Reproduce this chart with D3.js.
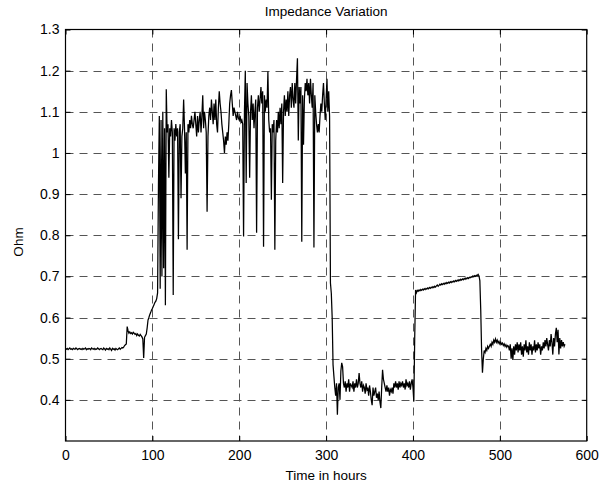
<!DOCTYPE html>
<html>
<head>
<meta charset="utf-8">
<script src="https://cdn.jsdelivr.net/npm/d3@7"></script>
<style>
  body { margin: 0; background: #fff; }
  text { font-family: "Liberation Sans", Arial, Helvetica, sans-serif; fill: #000; }
</style>
</head>
<body>
<svg id="chart" width="602" height="484"></svg>
<script>
// impedance readings, one per hour starting at hour 0
const stepHours = 1;
const ohm = [
  0.524,0.523,0.525,0.522,0.524,0.526,0.523,0.524,0.522,0.525, // 0
  0.524,0.523,0.526,0.524,0.522,0.524,0.525,0.523,0.524,0.522, // 10
  0.525,0.523,0.524,0.526,0.522,0.524,0.523,0.525,0.524,0.522, // 20
  0.526,0.524,0.523,0.525,0.522,0.524,0.523,0.526,0.524,0.522, // 30
  0.524,0.525,0.523,0.522,0.526,0.524,0.521,0.525,0.523,0.524, // 40
  0.522,0.526,0.523,0.520,0.525,0.523,0.524,0.521,0.525,0.523, // 50
  0.522,0.524,0.526,0.523,0.525,0.527,0.526,0.528,0.532,0.534, // 60
  0.536,0.578,0.568,0.562,0.565,0.561,0.563,0.560,0.564,0.562, // 70
  0.559,0.561,0.556,0.560,0.557,0.555,0.559,0.556,0.553,0.548, // 80
  0.502,0.552,0.556,0.560,0.575,0.594,0.600,0.607,0.612,0.618, // 90
  0.622,0.627,0.632,0.637,0.640,0.646,0.66,0.92,1.09,0.67,     // 100
  1.08,0.70,1.10,0.72,1.06,0.63,1.155,1.05,1.07,0.94,          // 110
  1.06,1.04,1.08,1.05,0.655,1.06,1.03,1.07,1.04,1.06,          // 120
  0.79,1.05,1.07,0.89,1.04,1.06,1.13,1.06,0.95,1.05,           // 130
  0.765,1.07,1.05,1.08,1.06,1.09,1.07,1.06,1.08,1.10,          // 140
  1.07,1.04,1.09,1.05,1.08,1.10,1.05,1.09,1.14,1.06,           // 150
  1.10,1.08,1.05,0.857,1.04,1.09,1.11,1.08,1.13,1.10,          // 160
  1.07,1.12,1.08,1.13,1.07,1.05,1.11,1.15,1.12,1.10,           // 170
  1.07,1.05,1.03,1.00,1.04,1.02,1.05,1.03,1.07,1.12,           // 180
  1.14,1.153,1.12,1.09,1.11,1.10,1.09,1.08,1.10,1.085,         // 190
  1.08,1.09,1.075,1.08,1.07,0.797,1.10,1.20,0.927,1.17,        // 200
  1.12,1.09,0.94,1.10,1.14,1.08,1.12,1.06,1.10,1.13,           // 210
  0.806,1.11,1.14,1.10,1.13,1.16,1.12,1.15,0.772,1.14,         // 220
  1.10,1.13,1.11,1.198,1.08,1.05,1.06,0.886,1.07,1.05,         // 230
  1.08,0.765,1.03,1.08,1.05,1.10,1.06,1.11,1.07,1.12,          // 240
  0.927,1.10,1.14,1.09,1.13,1.10,1.15,1.09,1.14,1.16,          // 250
  1.11,1.17,1.13,1.11,1.17,1.12,1.18,1.23,1.03,1.16,           // 260
  1.12,1.16,0.784,1.14,1.02,1.13,1.17,1.15,1.18,1.14,          // 270
  1.17,1.12,1.18,1.14,1.11,1.17,0.77,1.14,1.10,1.07,           // 280
  1.05,1.07,1.05,1.09,1.12,1.10,1.14,1.17,1.12,1.08,           // 290
  1.13,1.18,1.10,1.15,1.09,0.684,0.659,0.60,0.485,0.457,       // 300
  0.43,0.41,0.44,0.364,0.43,0.44,0.40,0.47,0.49,0.48,          // 310
  0.44,0.43,0.445,0.42,0.44,0.43,0.45,0.42,0.44,0.435,         // 320
  0.43,0.445,0.42,0.44,0.43,0.45,0.43,0.44,0.465,0.44,         // 330
  0.43,0.445,0.42,0.435,0.43,0.415,0.44,0.425,0.43,0.41,       // 340
  0.435,0.42,0.40,0.387,0.43,0.41,0.42,0.43,0.405,0.415,       // 350
  0.40,0.42,0.395,0.38,0.43,0.473,0.45,0.44,0.43,0.42,         // 360
  0.435,0.42,0.43,0.41,0.425,0.42,0.43,0.415,0.44,0.43,        // 370
  0.445,0.43,0.44,0.425,0.445,0.43,0.44,0.435,0.445,0.43,      // 380
  0.44,0.425,0.45,0.435,0.44,0.43,0.445,0.425,0.44,0.45,       // 390
  0.43,0.396,0.55,0.667,0.660,0.666,0.664,0.667,0.665,0.668,   // 400
  0.666,0.669,0.667,0.670,0.668,0.671,0.669,0.672,0.670,0.673, // 410
  0.671,0.674,0.672,0.675,0.673,0.676,0.674,0.677,0.679,0.676, // 420
  0.678,0.681,0.679,0.682,0.680,0.683,0.681,0.684,0.682,0.685, // 430
  0.683,0.686,0.684,0.687,0.685,0.688,0.686,0.689,0.687,0.690, // 440
  0.688,0.691,0.689,0.692,0.690,0.693,0.691,0.694,0.692,0.695, // 450
  0.693,0.696,0.694,0.697,0.695,0.698,0.697,0.699,0.698,0.701, // 460
  0.699,0.702,0.700,0.703,0.702,0.705,0.701,0.690,0.620,0.522, // 470
  0.466,0.500,0.520,0.515,0.525,0.520,0.530,0.525,0.530,0.535, // 480
  0.530,0.540,0.535,0.545,0.540,0.548,0.540,0.545,0.538,0.542, // 490
  0.536,0.540,0.535,0.538,0.532,0.536,0.530,0.534,0.528,0.532, // 500
  0.530,0.520,0.535,0.500,0.525,0.497,0.530,0.510,0.535,0.520, // 510
  0.540,0.515,0.535,0.520,0.540,0.510,0.530,0.505,0.535,0.520, // 520
  0.545,0.515,0.530,0.510,0.540,0.520,0.535,0.510,0.530,0.520, // 530
  0.545,0.515,0.535,0.520,0.540,0.525,0.535,0.510,0.530,0.520, // 540
  0.540,0.525,0.545,0.530,0.550,0.535,0.520,0.545,0.530,0.560, // 550
  0.540,0.510,0.550,0.530,0.560,0.575,0.540,0.570,0.510,0.550, // 560
  0.525,0.545,0.530,0.540,0.530,0.535                          // 570
];

const xTicks = [0, 100, 200, 300, 400, 500, 600];
const xTickLabels = ["0", "100", "200", "300", "400", "500", "600"];
const yTicks = [0.4, 0.5, 0.6, 0.7, 0.8, 0.9, 1.0, 1.1, 1.2, 1.3];
const yTickLabels = ["0.4", "0.5", "0.6", "0.7", "0.8", "0.9", "1", "1.1", "1.2", "1.3"];

const svg = d3.select('#chart');
const margin = { left: 65.5, right: 15.3, top: 29.5, bottom: 43 };
const W = 602, H = 484;

const x = d3.scaleLinear().domain([0, 600]).range([margin.left, W - margin.right]);
const y = d3.scaleLinear().domain([0.3, 1.3]).range([H - margin.bottom, margin.top]);

svg.append('rect').attr('width', W).attr('height', H).attr('fill', '#fff');

// dashed grid
const grid = svg.append('g').attr('stroke', '#555').attr('stroke-width', 1)
  .attr('stroke-dasharray', '8,6').attr('fill', 'none');
xTicks.slice(1, -1).forEach(t => {
  grid.append('line').attr('x1', Math.round(x(t)) + 0.5).attr('x2', Math.round(x(t)) + 0.5)
    .attr('y1', y(1.3)).attr('y2', y(0.3));
});
yTicks.slice(0, -1).forEach(t => {
  grid.append('line').attr('y1', Math.round(y(t)) + 0.5).attr('y2', Math.round(y(t)) + 0.5)
    .attr('x1', x(0)).attr('x2', x(600));
});

// the trace
const line = d3.line()
  .x((d, i) => x(i * stepHours))
  .y(d => y(d));
svg.append('path').datum(ohm)
  .attr('d', line)
  .attr('fill', 'none')
  .attr('stroke', '#000')
  .attr('stroke-width', 1.25);

// axes, ticks pointing inward
const xAxis = d3.axisBottom(x).tickValues(xTicks)
  .tickFormat((d, i) => xTickLabels[i]).tickSizeInner(-5).tickSizeOuter(0).tickPadding(9);
const yAxis = d3.axisLeft(y).tickValues(yTicks)
  .tickFormat((d, i) => yTickLabels[i]).tickSizeInner(-5).tickSizeOuter(0).tickPadding(6);

const gx = svg.append('g').attr('transform', `translate(0,${y(0.3)})`).call(xAxis);
const gy = svg.append('g').attr('transform', `translate(${x(0)},0)`).call(yAxis);
[gx, gy].forEach(g => {
  g.select('.domain').remove();
  g.selectAll('text').attr('font-size', 14).attr('font-family', '"Liberation Sans", Arial, sans-serif');
  g.selectAll('line').attr('stroke', '#000');
});

// ticks on top and right too
svg.append('g').call(d3.axisTop(x).tickValues(xTicks).tickSizeInner(-5).tickSizeOuter(0).tickFormat(''))
  .attr('transform', `translate(0,${y(1.3)})`)
  .call(g => g.select('.domain').remove());
svg.append('g').call(d3.axisRight(y).tickValues(yTicks).tickSizeInner(-5).tickSizeOuter(0).tickFormat(''))
  .attr('transform', `translate(${x(600)},0)`)
  .call(g => g.select('.domain').remove());

// box
svg.append('rect')
  .attr('x', x(0)).attr('y', y(1.3))
  .attr('width', x(600) - x(0)).attr('height', y(0.3) - y(1.3))
  .attr('fill', 'none').attr('stroke', '#000').attr('stroke-width', 1.2);

// labels
svg.append('text').attr('x', (x(0) + x(600)) / 2).attr('y', 16)
  .attr('text-anchor', 'middle').attr('font-size', 13.5).text('Impedance Variation');
svg.append('text').attr('x', (x(0) + x(600)) / 2).attr('y', 480)
  .attr('text-anchor', 'middle').attr('font-size', 13.5).text('Time in hours');
svg.append('text').attr('transform', `translate(23,242) rotate(-90)`)
  .attr('text-anchor', 'middle').attr('font-size', 13.5).text('Ohm');
</script>
</body>
</html>
